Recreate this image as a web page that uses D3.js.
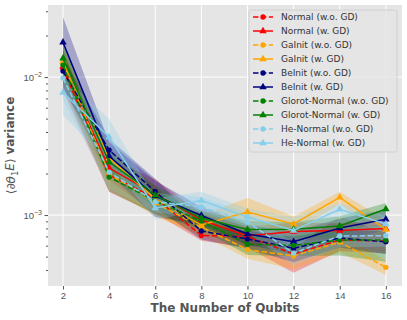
<!DOCTYPE html>
<html>
<head>
<meta charset="utf-8">
<script src="https://cdn.jsdelivr.net/npm/d3@7"></script>
<style>
  body { margin: 0; background: #fff; }
  svg { font-family: "DejaVu Sans", sans-serif; }
</style>
</head>
<body>
<div class="chart"></div>
<script>
var width = 407;
var height = 320;

var qubits = [2, 4, 6, 8, 10, 12, 14, 16];
var names = ['Normal (w.o. GD)', 'Normal (w. GD)', 'GaInit (w.o. GD)', 'GaInit (w. GD)',
  'BeInit (w.o. GD)', 'BeInit (w. GD)', 'Glorot-Normal (w.o. GD)', 'Glorot-Normal (w. GD)',
  'He-Normal (w.o. GD)', 'He-Normal (w. GD)'];
var colors = ['red', 'red', 'orange', 'orange', 'navy', 'navy', 'green', 'green', 'skyblue', 'skyblue'];
var withGD = [false, true, false, true, false, true, false, true, false, true];

// mean variance per series
var normalWo = [0.01143, 0.001949, 0.001328, 0.000710, 0.000699, 0.000522, 0.000659, 0.000648];
var normalW = [0.01191, 0.002191, 0.001420, 0.000920, 0.000705, 0.000760, 0.000772, 0.000798];
var gainitWo = [0.01263, 0.001982, 0.001222, 0.000818, 0.000562, 0.000505, 0.000637, 0.000418];
var gainitW = [0.01295, 0.002588, 0.001306, 0.000846, 0.001051, 0.000861, 0.001344, 0.000785];
var beinitWo = [0.01105, 0.002958, 0.001480, 0.000766, 0.000670, 0.000575, 0.000681, 0.000640];
var beinitW = [0.01784, 0.002676, 0.001373, 0.000992, 0.000729, 0.000640, 0.000805, 0.000932];
var glorotWo = [0.01222, 0.001885, 0.001263, 0.000905, 0.000613, 0.000603, 0.000659, 0.000659];
var glorotW = [0.01366, 0.002421, 0.001396, 0.000951, 0.000785, 0.000788, 0.000832, 0.001105];
var heWo = [0.00983, 0.002049, 0.001249, 0.001148, 0.000890, 0.000530, 0.000705, 0.000708];
var heW = [0.00772, 0.003674, 0.001124, 0.001273, 0.000967, 0.000772, 0.001100, 0.000861];

// std (band half width)
var normalWoStd = [0.0035, 0.00048, 0.0003, 0.00006, 0.00012, 0.00014, 0.00011, 0.00012];
var normalWStd = [0.003, 0.0004, 0.0004, 0.0001, 0.00012, 0.00012, 0.0001, 0.00012];
var gainitWoStd = [0.003, 0.0004, 0.00025, 0.0001, 0.00008, 0.0001, 0.0001, 0.00005];
var gainitWStd = [0.0035, 0.0005, 0.0003, 0.00015, 0.00028, 0.00012, 0.00013, 0.00013];
var beinitWoStd = [0.003, 0.0006, 0.00035, 0.0001, 0.0001, 0.00012, 0.0001, 0.00012];
var beinitWStd = [0.0094, 0.0007, 0.0004, 0.00015, 0.00012, 0.00012, 0.00014, 0.00016];
var glorotWoStd = [0.0035, 0.0004, 0.00025, 0.00012, 0.0001, 0.0001, 0.00015, 0.0002];
var glorotWStd = [0.004, 0.0005, 0.00025, 0.00012, 0.00012, 0.0001, 0.00015, 0.00012];
var heWoStd = [0.003, 0.0005, 0.0002, 0.0002, 0.00015, 0.0001, 0.00012, 0.00012];
var heWStd = [0.0024, 0.0013, 0.0002, 0.0002, 0.00015, 0.0002, 0.00012, 0.00012];

var means = [normalWo, normalW, gainitWo, gainitW, beinitWo, beinitW, glorotWo, glorotW, heWo, heW];
var stds = [normalWoStd, normalWStd, gainitWoStd, gainitWStd, beinitWoStd, beinitWStd,
  glorotWoStd, glorotWStd, heWoStd, heWStd];

var yTicks = [1e-3, 1e-2];
var xTicks = [2, 4, 6, 8, 10, 12, 14, 16];

var margin = {left: 48, right: 5, top: 5, bottom: 34};

var x = d3.scaleLinear().domain([1.35, 16.7]).range([margin.left, width - margin.right]);
var y = d3.scaleLog().domain([3.06e-4, 0.0333]).range([height - margin.bottom, margin.top]);

var svg = d3.select('.chart').append('svg')
  .attr('width', width).attr('height', height);

// panel
svg.append('rect')
  .attr('x', x.range()[0]).attr('y', y.range()[1])
  .attr('width', x.range()[1] - x.range()[0])
  .attr('height', y.range()[0] - y.range()[1])
  .attr('fill', '#E5E5E5');

// grid
svg.append('g').selectAll('line').data(xTicks).enter().append('line')
  .attr('x1', d => x(d)).attr('x2', d => x(d))
  .attr('y1', y.range()[1]).attr('y2', y.range()[0])
  .attr('stroke', 'white').attr('stroke-width', 1);
svg.append('g').selectAll('line').data(yTicks).enter().append('line')
  .attr('x1', x.range()[0]).attr('x2', x.range()[1])
  .attr('y1', d => y(d)).attr('y2', d => y(d))
  .attr('stroke', 'white').attr('stroke-width', 1);

// axes
var xAxis = svg.append('g')
  .attr('transform', `translate(0,${y.range()[0]})`)
  .call(d3.axisBottom(x).tickValues(xTicks).tickSize(3.5).tickPadding(3).tickFormat(d3.format('d')));
xAxis.select('.domain').remove();
xAxis.selectAll('line').attr('stroke', '#555');
xAxis.selectAll('text').attr('fill', '#555').style('font-size', '9.5px');

var minor = [];
[1e-4, 1e-3, 1e-2].forEach(function(p) {
  for (var k = 2; k <= 9; k++) {
    var v = k * p;
    if (v > y.domain()[0] && v < y.domain()[1]) minor.push(v);
  }
});
var yMinor = svg.append('g')
  .attr('transform', `translate(${x.range()[0]},0)`)
  .call(d3.axisLeft(y).tickValues(minor).tickSize(2).tickFormat(''));
yMinor.select('.domain').remove();
yMinor.selectAll('line').attr('stroke', '#555');

var yAxis = svg.append('g')
  .attr('transform', `translate(${x.range()[0]},0)`)
  .call(d3.axisLeft(y).tickValues(yTicks).tickSize(3.5).tickPadding(3).tickFormat(''));
yAxis.select('.domain').remove();
yAxis.selectAll('line').attr('stroke', '#555');
yAxis.selectAll('.tick').append('text')
  .attr('x', -6).attr('dy', '0.35em')
  .attr('text-anchor', 'end')
  .attr('fill', '#555')
  .style('font-size', '9.5px')
  .each(function(d) {
    var t = d3.select(this);
    t.append('tspan').text('10');
    t.append('tspan').attr('dy', '-0.5em').style('font-size', '7px')
      .text('\u2212' + Math.round(-Math.log10(d)));
  });

// bands
var area = d3.area()
  .x(d => x(d.x))
  .y0(d => y(Math.max(d.v - d.s, 1e-5)))
  .y1(d => y(d.v + d.s));

var line = d3.line().x(d => x(d.x)).y(d => y(d.v));

var series = means.map((m, i) => m.map((v, j) => ({x: qubits[j], v: v, s: stds[i][j]})));

var clip = svg.append('clipPath').attr('id', 'clip').append('rect')
  .attr('x', x.range()[0]).attr('y', y.range()[1])
  .attr('width', x.range()[1] - x.range()[0])
  .attr('height', y.range()[0] - y.range()[1]);

var plot = svg.append('g').attr('clip-path', 'url(#clip)');

plot.selectAll('path.band').data(series).enter().append('path')
  .attr('class', 'band')
  .attr('d', area)
  .attr('fill', (d, i) => colors[i])
  .attr('fill-opacity', 0.28);

var circle = d3.symbol().type(d3.symbolCircle).size(22);
var tri = d3.symbol().type(d3.symbolTriangle).size(24);

series.forEach(function(s, i) {
  var g = plot.append('g');
  g.append('path')
    .attr('d', line(s))
    .attr('fill', 'none')
    .attr('stroke', colors[i])
    .attr('stroke-width', 1.5)
    .attr('stroke-dasharray', withGD[i] ? null : '5.5,2.4');
  g.selectAll('path.m').data(s).enter().append('path')
    .attr('class', 'm')
    .attr('transform', d => `translate(${x(d.x)},${y(d.v)})`)
    .attr('d', withGD[i] ? tri : circle)
    .attr('fill', colors[i]);
});

// legend
var lg = svg.append('g').attr('transform', 'translate(249,10)');
lg.append('rect')
  .attr('width', 148).attr('height', 142)
  .attr('rx', 2)
  .attr('fill', '#E5E5E5').attr('fill-opacity', 0.8)
  .attr('stroke', '#CCCCCC').attr('stroke-width', 0.8);

var rows = lg.selectAll('g.row').data(names).enter().append('g')
  .attr('class', 'row')
  .attr('transform', (d, i) => `translate(0,${7 + i * 14})`);
rows.append('line')
  .attr('x1', 4).attr('x2', 24)
  .attr('stroke', (d, i) => colors[i])
  .attr('stroke-width', 1.5)
  .attr('stroke-dasharray', (d, i) => withGD[i] ? null : '5.5,2.4');
rows.append('path')
  .attr('transform', 'translate(14,0)')
  .attr('d', (d, i) => withGD[i] ? tri() : circle())
  .attr('fill', (d, i) => colors[i]);
rows.append('text')
  .attr('x', 32).attr('dy', '0.35em')
  .attr('fill', '#333')
  .style('font-size', '9px')
  .text(d => d);

// axis labels
svg.append('text')
  .attr('x', (x.range()[0] + x.range()[1]) / 2)
  .attr('y', 312)
  .attr('text-anchor', 'middle')
  .attr('fill', '#555')
  .style('font-size', '12px')
  .style('font-weight', 'bold')
  .text('The Number of Qubits');

var yl = svg.append('text')
  .attr('transform', `translate(15,${(y.range()[0] + y.range()[1]) / 2}) rotate(-90)`)
  .attr('text-anchor', 'middle')
  .attr('fill', '#555')
  .style('font-size', '12px');
yl.append('tspan').text('\u27E8\u2202');
yl.append('tspan').style('font-style', 'italic').text('\u03B8');
yl.append('tspan').attr('dy', '0.3em').style('font-size', '8.5px').text('1');
yl.append('tspan').attr('dy', '-0.3em').style('font-style', 'italic').text('E');
yl.append('tspan').text('\u27E9 ');
yl.append('tspan').style('font-weight', 'bold').text('variance');

svg.node();
</script>
</body>
</html>
